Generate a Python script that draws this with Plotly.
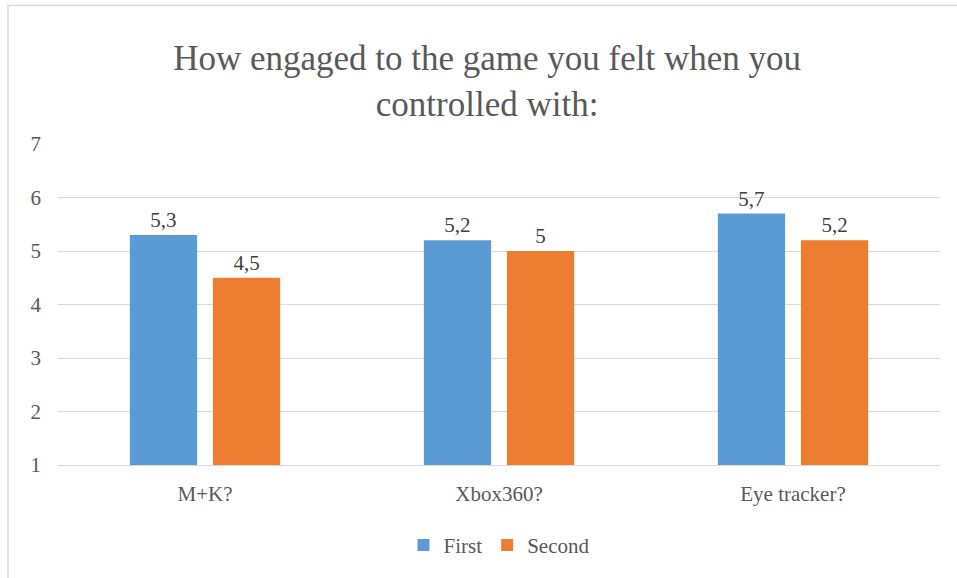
import plotly.graph_objects as go

# Survey results: average engagement score per controller
categories = ["M+K?", "Xbox360?", "Eye tracker?"]
first = [5.3, 5.2, 5.7]
second = [4.5, 5.0, 5.2]
series_names = ["First", "Second"]
y_ticks = [1, 2, 3, 4, 5, 6, 7]

BLUE = "#5B9BD5"
ORANGE = "#ED7D31"
SERIF = "Liberation Serif"


def comma(v):
    s = f"{v:g}"
    return s.replace(".", ",")


fig = go.Figure()
for name, vals, color in zip(series_names, [first, second], [BLUE, ORANGE]):
    fig.add_trace(go.Bar(
        name=name,
        x=categories,
        y=vals,
        marker=dict(color=color, line=dict(width=0)),
        text=[comma(v) for v in vals],
        textposition="outside",
        textfont=dict(family=SERIF, size=21, color="#404040"),
        cliponaxis=False,
    ))

fig.update_layout(
    font=dict(family=SERIF, size=21, color="#595959"),
    width=957,
    height=578,
    margin=dict(l=58, r=17, t=144, b=113),
    paper_bgcolor="white",
    plot_bgcolor="white",
    barmode="group",
    bargap=0.435,
    bargroupgap=0.19,
    title=dict(
        text="How engaged to the game you felt when you<br>controlled with:",
        x=0.509,
        xanchor="center",
        y=1 - 70 / 578,
        yanchor="middle",
        font=dict(family=SERIF, size=35, color="#595959"),
    ),
    legend=dict(
        orientation="h",
        x=0.5,
        xanchor="center",
        y=-0.25,
        yanchor="middle",
        font=dict(family=SERIF, size=21, color="#595959"),
        itemwidth=30,
    ),
)

fig.update_yaxes(
    range=[1, 7],
    tickvals=y_ticks,
    showgrid=True,
    gridcolor="#D9D9D9",
    gridwidth=1,
    zeroline=False,
    showline=False,
    ticks="",
    tickfont=dict(family=SERIF, size=21, color="#595959"),
    ticklabelstandoff=16,
)
fig.update_xaxes(
    showline=True,
    linecolor="#D9D9D9",
    linewidth=1,
    ticks="",
    showgrid=False,
    tickfont=dict(family=SERIF, size=21, color="#595959"),
    ticklabelstandoff=10,
)

# Outer chart frame
fig.add_shape(
    type="rect",
    xref="paper", yref="paper",
    x0=(8 - 58) / 882, x1=1.2,
    y0=-0.6, y1=(465 - 5.5) / 321,
    line=dict(color="#D9D9D9", width=1.5),
    fillcolor="rgba(0,0,0,0)",
    layer="below",
)

fig.write_html("out.html")
